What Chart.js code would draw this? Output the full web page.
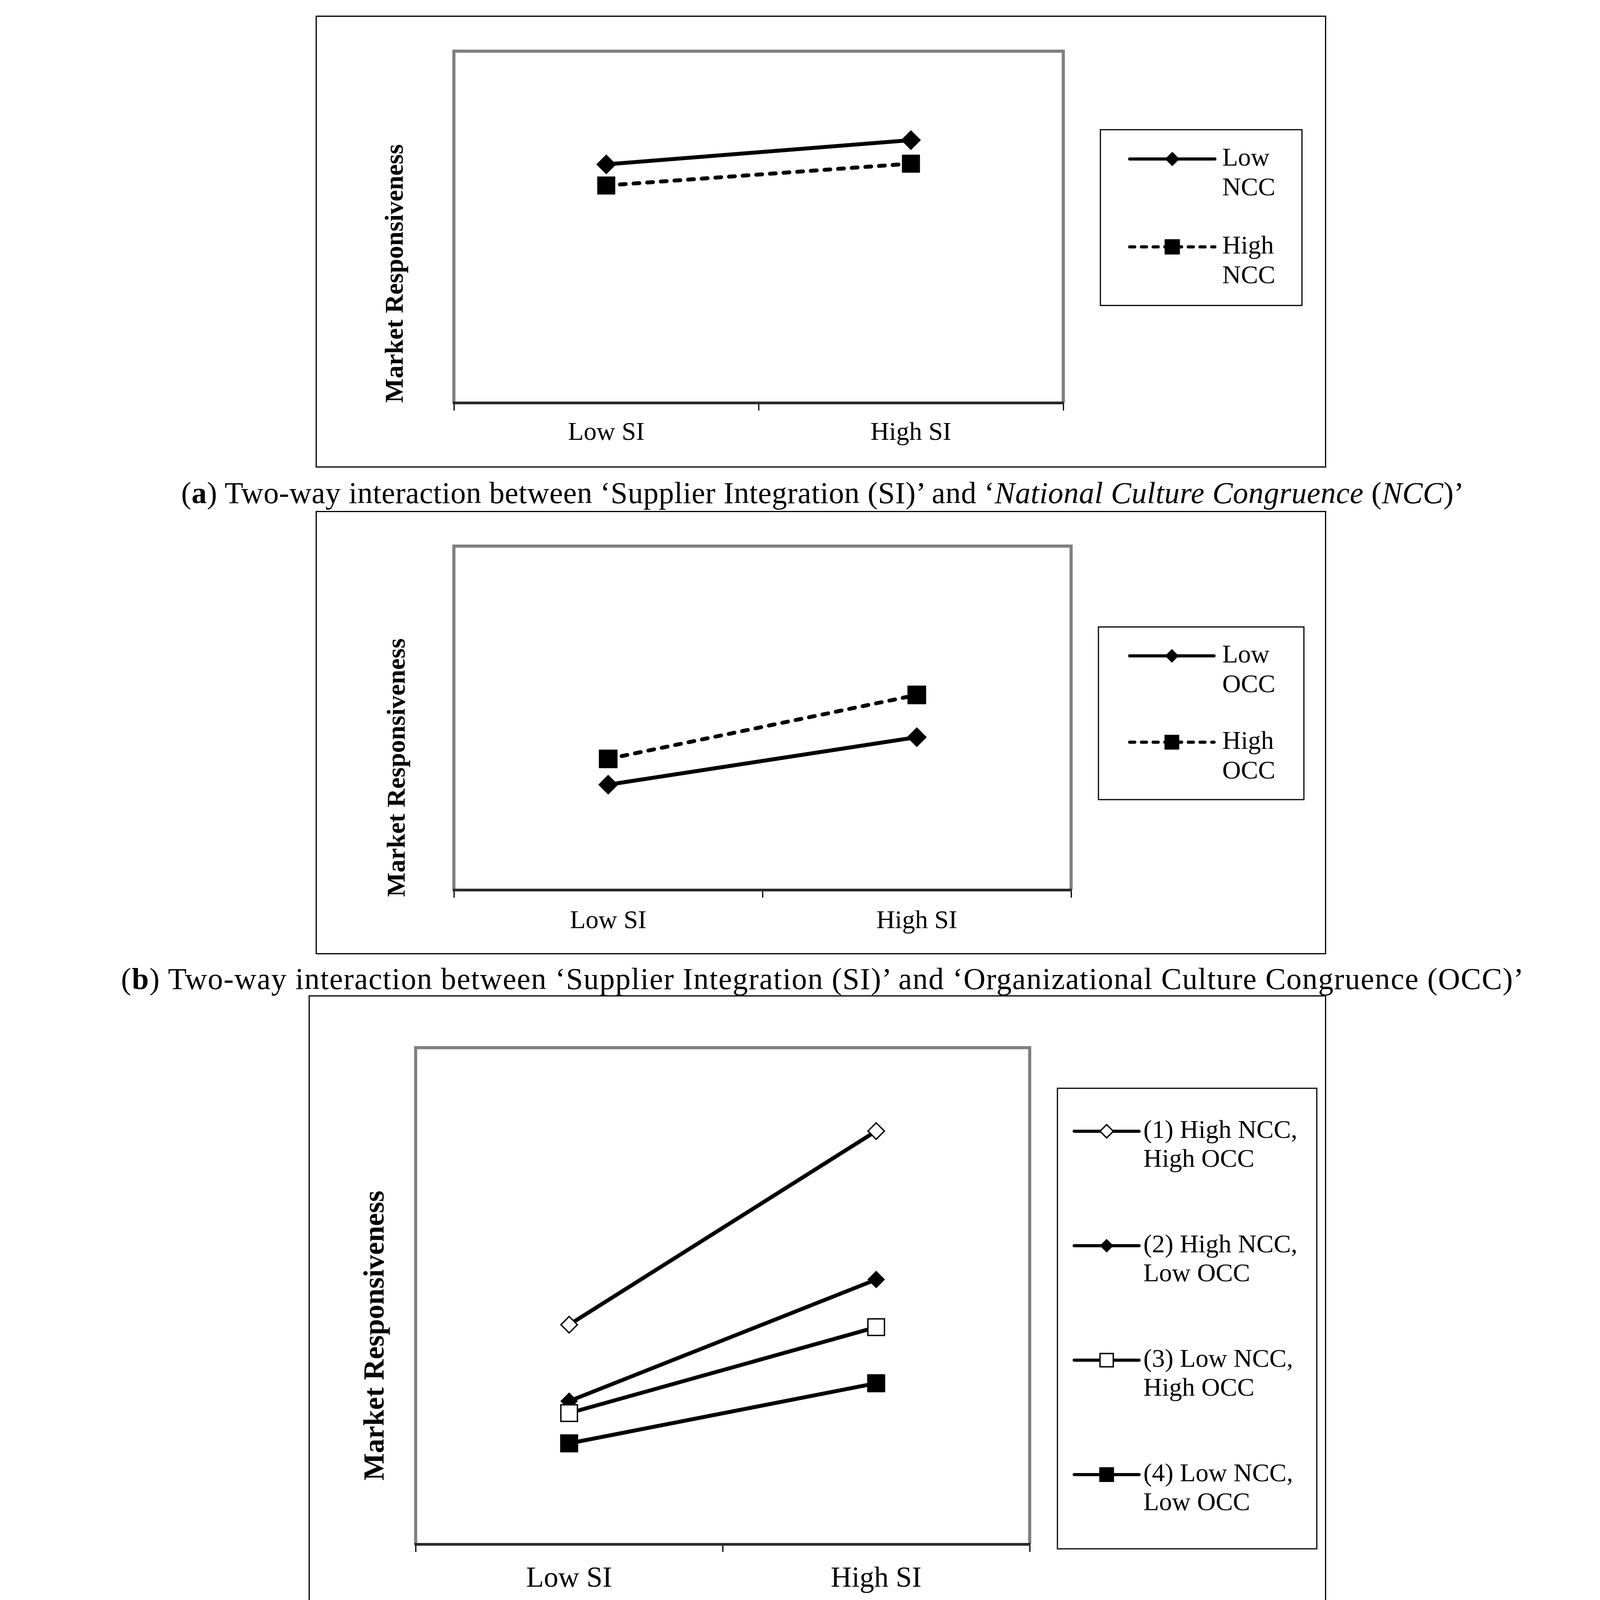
<!DOCTYPE html>
<html>
<head>
<meta charset="utf-8">
<script src="https://cdn.jsdelivr.net/npm/chart.js@4/dist/chart.umd.min.js"></script>
<style>
    html, body { margin: 0; padding: 0; background: #fff; }
    body { width: 4212px; height: 4496px; position: relative; overflow: hidden; }
    .panel { position: absolute; box-sizing: border-box; border: 3px solid #000; background: #fff; }
    .panel canvas { position: absolute; left: 0; top: 0; }
    .cap { position: absolute; left: 0; width: 4212px; text-align: center;
           font-family: "Liberation Serif", "Times New Roman", serif; font-size: 78px;
           line-height: 97px; color: #000; white-space: nowrap; }
    .cap .line { display: inline-block; }
</style>
</head>
<body>

<div class="panel" style="left:808px;top:40px;width:2587px;height:1157px;">
    <canvas id="chart-a" width="2581" height="1151" style="width:2581px;height:1151px"></canvas>
</div>
<div class="cap" style="top:1213px;">
    <span class="line" data-w="3285">(<b>a</b>) Two-way interaction between ‘Supplier Integration (SI)’ and ‘<i>National Culture Congruence</i> (<i>NCC</i>)’</span>
</div>

<div class="panel" style="left:808px;top:1308px;width:2587px;height:1135px;">
    <canvas id="chart-b" width="2581" height="1129" style="width:2581px;height:1129px"></canvas>
</div>
<div class="cap" style="top:2457px;">
    <span class="line" data-w="3592">(<b>b</b>) Two-way interaction between ‘Supplier Integration (SI)’ and ‘Organizational Culture Congruence (OCC)’</span>
</div>

<div class="panel" style="left:790px;top:2548px;width:2605px;height:1714px;">
    <canvas id="chart-c" width="2599" height="1708" style="width:2599px;height:1708px"></canvas>
</div>
<div class="cap" style="top:4278px;">
    <span class="line" data-w="4136">(<b>c</b>) Three-way interaction among ‘Supplier Integration (SI)’, ‘<i>National Culture Congruence</i> (<i>NCC</i>)’, and ‘Organizational Culture</span><br>
    <span class="line" data-w="636">Congruence (OCC)’</span>
</div>

<script>
// --- data (arbitrary 0-100 scale, axis has no ticks) ---
var siLevels = ['Low SI', 'High SI'];
var yRange = [0, 100];
var yTitle = 'Market Responsiveness';

// (a) SI x NCC
var lowNCC = [67.8, 74.7];
var highNCC = [61.8, 68.0];
var legendA = [['Low', 'NCC'], ['High', 'NCC']];

// (b) SI x OCC
var lowOCC = [30.6, 44.4];
var highOCC = [38.1, 56.7];
var legendB = [['Low', 'OCC'], ['High', 'OCC']];

// (c) SI x NCC x OCC
var hiNccHiOcc = [44.2, 83.2];
var hiNccLoOcc = [28.8, 53.3];
var loNccHiOcc = [26.4, 43.7];
var loNccLoOcc = [20.3, 32.4];
var legendC = [
    ['(1) High NCC,', 'High OCC'],
    ['(2) High NCC,', 'Low OCC'],
    ['(3) Low NCC,', 'High OCC'],
    ['(4) Low NCC,', 'Low OCC']
];

var SERIF = '"Liberation Serif", "Times New Roman", serif';

// gray frame round the plot area (left, top, right); the x axis line is drawn by the scale
var plotFrame = {
    id: 'plotFrame',
    beforeDraw: function(chart) {
        var ctx = chart.ctx, a = chart.chartArea;
        ctx.save();
        ctx.strokeStyle = '#808080';
        ctx.lineWidth = 8;
        ctx.lineJoin = 'miter';
        ctx.beginPath();
        ctx.moveTo(a.left, a.bottom);
        ctx.lineTo(a.left, a.top);
        ctx.lineTo(a.right, a.top);
        ctx.lineTo(a.right, a.bottom);
        ctx.stroke();
        ctx.restore();
    }
};

// rotated y title, placed freely (it is not centred on the axis in the original)
var sideTitle = {
    id: 'sideTitle',
    afterDraw: function(chart, args, o) {
        var ctx = chart.ctx;
        ctx.save();
        ctx.translate(o.x, o.y);
        ctx.rotate(-Math.PI / 2);
        ctx.font = 'bold ' + o.size + 'px ' + SERIF;
        ctx.fillStyle = '#000';
        ctx.textAlign = 'center';
        ctx.textBaseline = 'middle';
        ctx.fillText(o.text, 0, 0);
        ctx.restore();
    }
};

function markerPath(ctx, style, r, x, y) {
    ctx.beginPath();
    if (style === 'rectRot') {
        ctx.moveTo(x - r, y); ctx.lineTo(x, y - r); ctx.lineTo(x + r, y); ctx.lineTo(x, y + r);
    } else {
        var s = Math.SQRT1_2 * r;
        ctx.rect(x - s, y - s, 2 * s, 2 * s);
    }
    ctx.closePath();
}

// boxed legend with two-line labels, drawn from the datasets
var boxLegend = {
    id: 'boxLegend',
    afterDraw: function(chart, args, o) {
        var ctx = chart.ctx;
        ctx.save();
        ctx.strokeStyle = '#000';
        ctx.lineWidth = 3;
        ctx.strokeRect(o.x, o.y, o.w, o.h);
        chart.data.datasets.forEach(function(ds, i) {
            var cy = o.y + o.firstRow + i * o.rowGap;
            var x0 = o.x + o.lineX, x1 = x0 + o.lineLen;
            ctx.beginPath();
            ctx.setLineDash(ds.borderDash ? [13, 17] : []);
            ctx.lineCap = 'round';
            ctx.lineWidth = o.lineWidth;
            ctx.strokeStyle = ds.borderColor;
            ctx.moveTo(x0, cy);
            ctx.lineTo(x1, cy);
            ctx.stroke();
            ctx.setLineDash([]);
            ctx.lineCap = 'butt';
            ctx.fillStyle = ds.pointBackgroundColor;
            ctx.strokeStyle = ds.pointBorderColor;
            ctx.lineWidth = ds.pointBorderWidth;
            markerPath(ctx, ds.pointStyle, ds.legendRadius, (x0 + x1) / 2, cy);
            ctx.fill();
            ctx.stroke();
            ctx.fillStyle = '#000';
            ctx.font = o.fontSize + 'px ' + SERIF;
            ctx.textAlign = 'left';
            ctx.textBaseline = 'middle';
            ds.legendLines.forEach(function(t, k) {
                ctx.fillText(t, o.x + o.textX, cy + k * o.lineH);
            });
        });
        ctx.restore();
    }
};

function series(label, values, lines, style, filled, r, legendR, opts) {
    var ds = {
        label: label,
        data: values,
        legendLines: lines,
        borderColor: '#000',
        borderWidth: 10,
        borderCapStyle: 'round',
        tension: 0,
        fill: false,
        pointStyle: style,
        pointRadius: r,
        pointHoverRadius: r,
        legendRadius: legendR,
        pointBackgroundColor: filled ? '#000' : '#fff',
        pointBorderColor: '#000',
        pointBorderWidth: filled ? 1 : 3.5
    };
    for (var k in opts || {}) ds[k] = opts[k];
    return ds;
}

function makeChart(id, datasets, L) {
    var canvas = document.getElementById(id);
    var W = canvas.width, H = canvas.height;
    var xHeight = 160;
    return new Chart(canvas.getContext('2d'), {
        type: 'line',
        data: { labels: siLevels, datasets: datasets },
        plugins: [plotFrame, boxLegend, sideTitle],
        options: {
            responsive: false,
            devicePixelRatio: 1,
            animation: false,
            events: [],
            layout: {
                padding: { left: 0, top: L.plot.top, right: W - L.plot.right, bottom: H - L.plot.bottom - xHeight }
            },
            scales: {
                x: {
                    type: 'category',
                    offset: true,
                    grid: { display: true, offset: true, drawOnChartArea: false, drawTicks: true,
                            tickLength: 20, color: '#000', lineWidth: 3 },
                    border: { display: true, color: '#2a2a2a', width: 7 },
                    ticks: { color: '#000', padding: L.tickPad, font: { family: SERIF, size: L.tickSize } },
                    afterFit: function(s) { s.height = xHeight; }
                },
                y: {
                    min: yRange[0],
                    max: yRange[1],
                    grid: { display: false },
                    border: { display: false },
                    ticks: { display: false },
                    afterFit: function(s) { s.width = L.plot.left; }
                }
            },
            plugins: {
                legend: { display: false },
                tooltip: { enabled: false },
                sideTitle: { text: yTitle, x: L.title.x, y: L.title.y, size: L.title.size },
                boxLegend: L.legend
            }
        }
    });
}

var dashed = { borderDash: [15, 20] };

makeChart('chart-a', [
    series('Low NCC', lowNCC, legendA[0], 'rectRot', true, 25, 18),
    series('High NCC', highNCC, legendA[1], 'rect', true, 32, 27, dashed)
], {
    plot: { left: 351, right: 1911, top: 88, bottom: 988 },
    tickPad: 18, tickSize: 66,
    title: { x: 203, y: 657, size: 66 },
    legend: { x: 2006, y: 289, w: 516, h: 450, firstRow: 75, rowGap: 225, lineWidth: 8,
              lineX: 75, lineLen: 218, textX: 312, lineH: 76, fontSize: 66 }
});

makeChart('chart-b', [
    series('Low OCC', lowOCC, legendB[0], 'rectRot', true, 25, 17),
    series('High OCC', highOCC, legendB[1], 'rect', true, 33, 26, dashed)
], {
    plot: { left: 351, right: 1931, top: 87, bottom: 967 },
    tickPad: 21, tickSize: 66,
    title: { x: 208, y: 654, size: 66 },
    legend: { x: 2001, y: 294, w: 526, h: 442, firstRow: 74, rowGap: 221, lineWidth: 8,
              lineX: 80, lineLen: 216, textX: 317, lineH: 76, fontSize: 66 }
});

makeChart('chart-c', [
    series('(1) High NCC, High OCC', hiNccHiOcc, legendC[0], 'rectRot', false, 21, 17, { order: 4 }),
    series('(2) High NCC, Low OCC', hiNccLoOcc, legendC[1], 'rectRot', true, 22, 17, { order: 3 }),
    series('(3) Low NCC, High OCC', loNccHiOcc, legendC[2], 'rect', false, 30, 24, { order: 2 }),
    series('(4) Low NCC, Low OCC', loNccLoOcc, legendC[3], 'rect', true, 32, 26, { order: 1 })
], {
    plot: { left: 271, right: 1843, top: 131, bottom: 1402 },
    tickPad: 25, tickSize: 74,
    title: { x: 170, y: 868, size: 74 },
    legend: { x: 1914, y: 235, w: 664, h: 1179, firstRow: 110, rowGap: 293, lineWidth: 8,
              lineX: 43, lineLen: 166, textX: 220, lineH: 74, fontSize: 66 }
});

// stretch caption lines to the widths measured on the original
document.querySelectorAll('.cap .line').forEach(function(el) {
    var target = +el.getAttribute('data-w');
    var w = el.getBoundingClientRect().width;
    var n = el.textContent.length;
    el.style.letterSpacing = ((target - w) / n).toFixed(2) + 'px';
});
</script>
</body>
</html>
